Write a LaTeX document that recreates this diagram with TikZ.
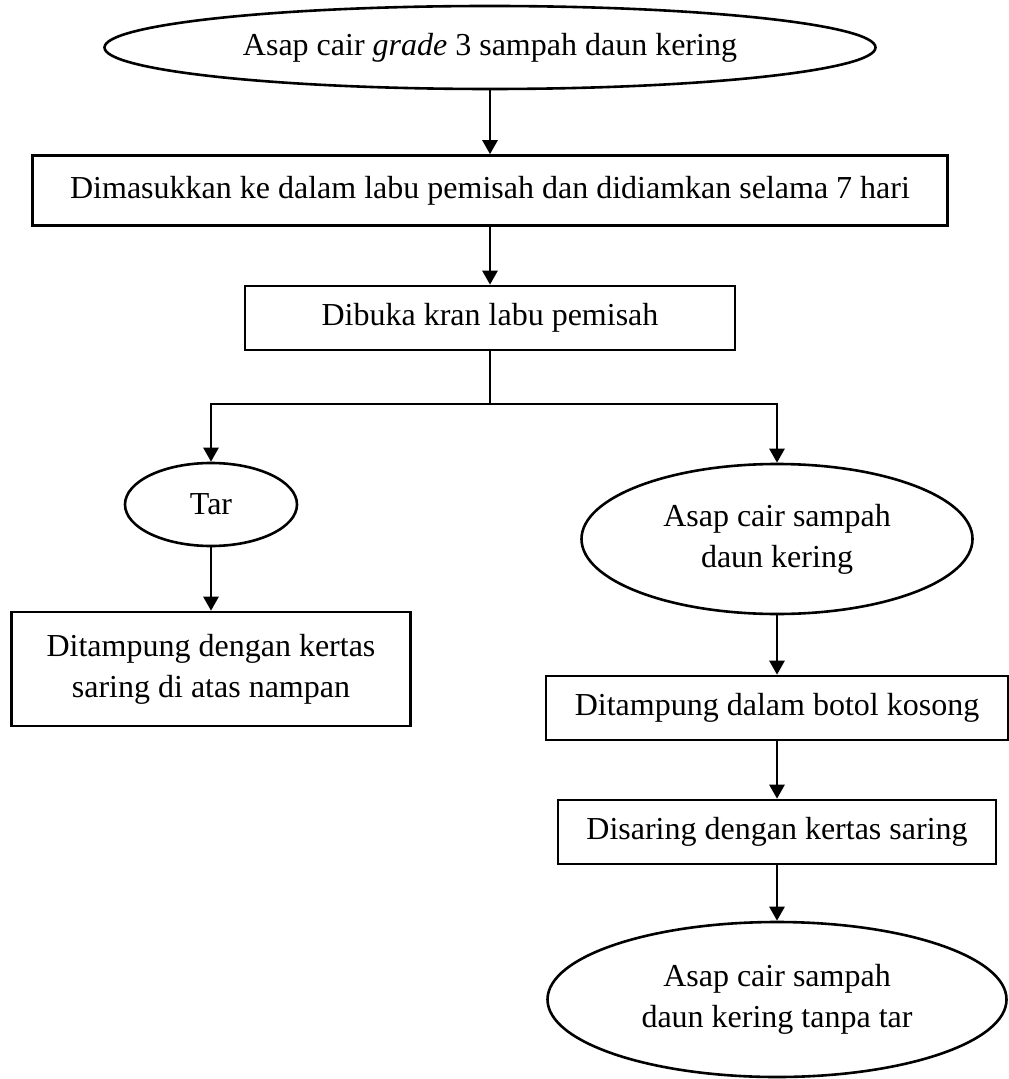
\documentclass[tikz,border=0pt]{standalone}
\usepackage{fontspec}
\setmainfont{Liberation Serif}
\usetikzlibrary{arrows.meta,shapes.geometric}

\begin{document}
\begin{tikzpicture}[x=0.5pt,y=-0.5pt,>={Triangle[length=7pt,width=7.5pt]},
  line width=1.3pt,font=\fontsize{16}{20.6}\selectfont,
  box node/.style={rectangle,draw,inner sep=0pt,align=center},
  oval node/.style={ellipse,draw,inner sep=0pt,align=center}]

  \useasboundingbox (0,0) rectangle (1008,1079);

  \node[oval node,minimum width=385.5pt,minimum height=41.5pt] (asap3) at (490,47.5) {Asap cair \textit{grade} 3 sampah daun kering};
  \node[box node,minimum width=457.5pt,minimum height=35pt] (masuk) at (490,190.5) {Dimasukkan ke dalam labu pemisah dan didiamkan selama 7 hari};
  \node[box node,minimum width=245pt,minimum height=32pt] (kran) at (490,318) {Dibuka kran labu pemisah};
  \coordinate (split) at (490,404);
  \node[oval node,minimum width=86pt,minimum height=41.5pt] (tar) at (211,504.5) {Tar};
  \node[box node,minimum width=199.5pt,minimum height=57pt] (tampung) at (211,669) {Ditampung dengan kertas\\saring di atas nampan};
  \node[oval node,minimum width=195.5pt,minimum height=75pt] (asapcair) at (777,539) {Asap cair sampah\\daun kering};
  \node[box node,minimum width=231pt,minimum height=32pt] (botol) at (777,708) {Ditampung dalam botol kosong};
  \node[box node,minimum width=219pt,minimum height=32pt] (saring) at (777,832) {Disaring dengan kertas saring};
  \node[oval node,minimum width=229.5pt,minimum height=77.5pt] (tanpatar) at (777,999.5) {Asap cair sampah\\daun kering tanpa tar};

  \path[->]
    (asap3) edge (masuk)
    (masuk) edge (kran)
    (tar) edge (tampung)
    (asapcair) edge (botol)
    (botol) edge (saring)
    (saring) edge (tanpatar);

  \draw (kran) -- (split);
  \draw[->] (split) -| (tar);
  \draw[->] (split) -| (asapcair);

\end{tikzpicture}
\end{document}
